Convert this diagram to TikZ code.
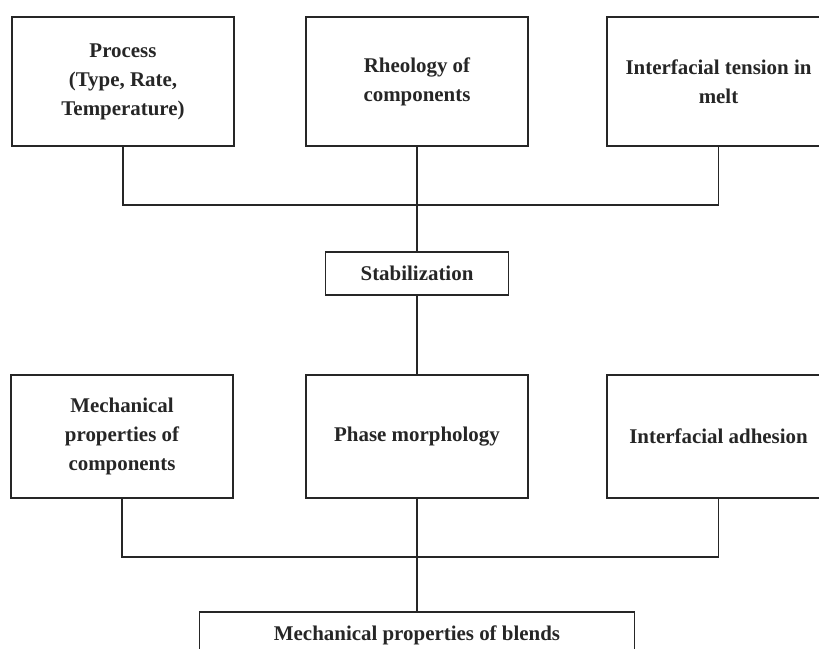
\documentclass[tikz,border=0pt]{standalone}
\usepackage{fontspec}
\setmainfont{Liberation Serif}
\usepackage{tikz}
\usetikzlibrary{calc}

\begin{document}
\begin{tikzpicture}[x={(1bp,0)},y={(0,-1bp)},line width=1.1bp,black!85,
  box/.style={draw, rectangle, inner sep=0pt, align=center, text=black!85,
    font=\bfseries\fontsize{21}{29}\selectfont}]
        \useasboundingbox (0,0) rectangle (819,649);

        \node[box, minimum width=222bp, minimum height=129bp](proc) at (123,81.5){Process\\(Type, Rate,\\Temperature)};
        \node[box, minimum width=222bp, minimum height=129bp](rheo) at (417,81.5){Rheology of\\components};
        \node[box, minimum width=223bp, minimum height=129bp](tens) at (718.5,81.5){Interfacial tension in\\melt};

        \node[box, minimum width=183bp, minimum height=43bp](stab) at (417,273.5){Stabilization};

        \node[box, minimum width=222bp, minimum height=123bp](mech) at (122,436.5){Mechanical\\properties of\\components};
        \node[box, minimum width=222bp, minimum height=123bp](phase) at (417,436.5){Phase morphology};
        \node[box, minimum width=223bp, minimum height=123bp](adh) at (718.5,436.5){Interfacial adhesion};

        \node[box, minimum width=435bp, minimum height=46bp](blend) at (417,635){Mechanical properties of blends};

        \coordinate (j1) at (417,205);
        \coordinate (j2) at (417,557);

        \draw (proc.south) |- (j1) -| (tens.south);
        \draw (rheo.south) -- (stab.north);
        \draw (stab.south) -- (phase.north);
        \draw (mech.south) |- (j2) -| (adh.south);
        \draw (phase.south) -- (blend.north);

      \end{tikzpicture}
\end{document}
